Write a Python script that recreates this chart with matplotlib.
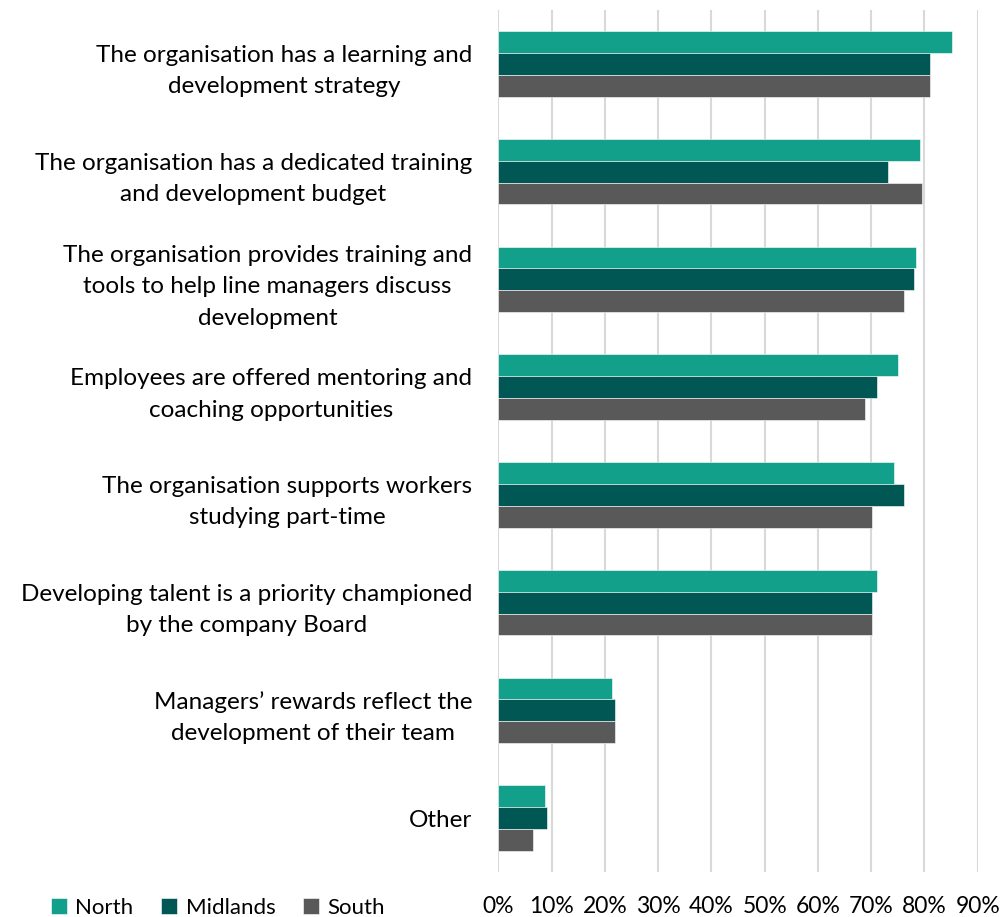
import numpy as np
import matplotlib
matplotlib.use("Agg")
from matplotlib import pyplot as plt
from matplotlib.ticker import PercentFormatter

categories = [
    "The organisation has a learning and\ndevelopment strategy",
    "The organisation has a dedicated training\nand development budget",
    "The organisation provides training and\ntools to help line managers discuss\ndevelopment",
    "Employees are offered mentoring and\ncoaching opportunities",
    "The organisation supports workers\nstudying part-time",
    "Developing talent is a priority championed\nby the company Board",
    "Managers\u2019 rewards reflect the\ndevelopment of their team",
    "Other",
]
north = [85.2, 79.2, 78.5, 75.1, 74.3, 71.0, 21.4, 8.7]
midlands = [81.1, 73.2, 78.1, 71.0, 76.2, 70.2, 21.9, 9.1]
south = [81.1, 79.6, 76.2, 68.8, 70.2, 70.2, 21.9, 6.5]

series = [("North", north, "#12a08a"), ("Midlands", midlands, "#005753"), ("South", south, "#595959")]

plt.rcParams['font.family'] = ['Lato', 'DejaVu Sans']

fig = plt.figure(figsize=(10.03, 9.17), dpi=100)
ax = fig.add_axes([498.5/1003, 1-872/917, (977.7-498.5)/1003, 862/917])

y = np.arange(len(categories))
h = 0.203
for i, (name, vals, col) in enumerate(series):
    ax.barh(y + (i-1)*h, vals, height=h, color=col, edgecolor="white", linewidth=0.4, label=name, zorder=3)

ax.set_ylim(len(categories)-0.5, -0.5)
ax.set_xlim(0, 90)
ax.set_xticks(np.arange(0, 91, 10))
ax.xaxis.set_major_formatter(PercentFormatter(decimals=0))
ax.grid(axis="x", color="#d9d9d9", linewidth=1.5, zorder=0)
for s in ax.spines.values():
    s.set_visible(False)
ax.tick_params(axis="both", length=0, colors="black")
ax.tick_params(axis="x", pad=17, labelsize=16.5)
ax.tick_params(axis="y", pad=19, labelsize=17.5)
ax.set_yticks(y)
ax.set_yticklabels(categories)
for lab in ax.get_yticklabels():
    lab.set_multialignment("center")
    lab.set_linespacing(1.62)

fig.legend(loc="center left", bbox_to_anchor=(51/1003, 1-908/917), ncol=3, frameon=False,
           fontsize=16, handlelength=0.7, handleheight=0.7, handletextpad=0.4, columnspacing=1.25,
           borderaxespad=0, borderpad=0)

fig.savefig("out.png", dpi=100)
